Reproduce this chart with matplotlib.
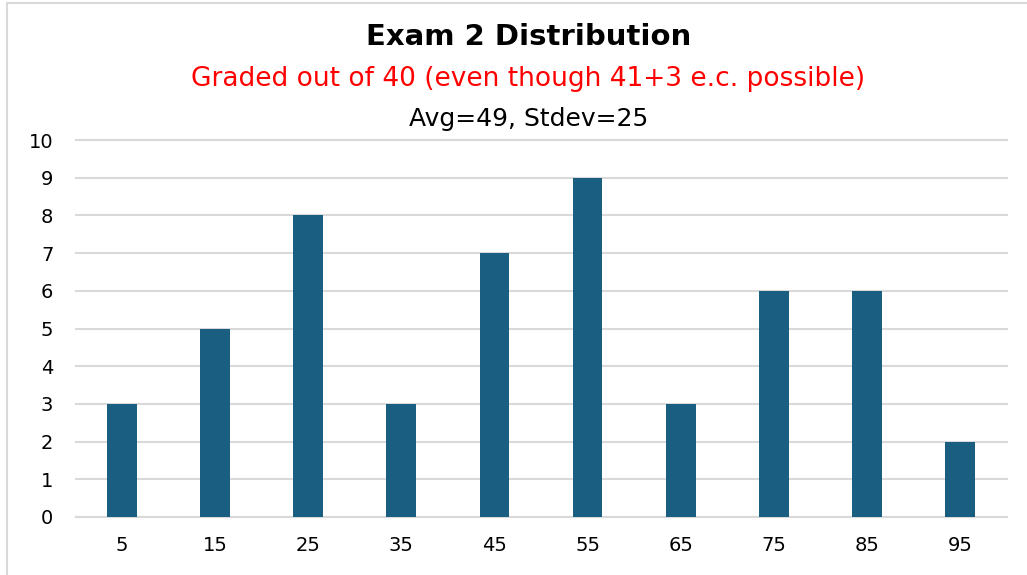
import matplotlib
matplotlib.use("Agg")
import matplotlib.pyplot as plt
from matplotlib.patches import Rectangle

plt.rcParams['font.family'] = ['DejaVu Sans']

bins = ['5', '15', '25', '35', '45', '55', '65', '75', '85', '95']
counts = [3, 5, 8, 3, 7, 9, 3, 6, 6, 2]

W, H = 1027, 575
fig = plt.figure(figsize=(W / 100, H / 100), dpi=100)
ax = fig.add_axes([75.5 / W, 58 / H, 931 / W, 377 / H])

x = range(len(bins))
ax.bar(x, counts, width=0.32, color='#1a5e82', zorder=3)

ax.set_xlim(-0.5, len(bins) - 0.5)
ax.set_ylim(0, 10)
ax.set_yticks(range(0, 11))
ax.set_xticks(list(x))
ax.set_xticklabels(bins)
ax.tick_params(axis='both', length=0, labelsize=14, colors='black')
ax.tick_params(axis='y', pad=16)
ax.tick_params(axis='x', pad=14)
ax.grid(axis='y', color='#d9d9d9', linewidth=1.5, zorder=0)
for gl in ax.get_ygridlines():
    gl.set_clip_on(False)
for s in ['top', 'left', 'right']:
    ax.spines[s].set_visible(False)
ax.spines['bottom'].set_color('#d9d9d9')
ax.spines['bottom'].set_linewidth(1.5)

# outer chart frame
fig.patches.append(Rectangle((7 / W, -0.05), 1.2, 1 - 3 / H + 0.05, transform=fig.transFigure,
                             fill=False, edgecolor='#d9d9d9', linewidth=1.5))

fig.text(529 / W, 1 - 37 / H, 'Exam 2 Distribution', ha='center', va='center',
         fontsize=21, fontweight='bold')
fig.text(528 / W, 1 - 79 / H, 'Graded out of 40 (even though 41+3 e.c. possible)',
         ha='center', va='center', fontsize=19, color='#ff0000')
fig.text(529 / W, 1 - 119 / H, 'Avg=49, Stdev=25', ha='center', va='center', fontsize=18)

fig.savefig('out.png', dpi=100)
